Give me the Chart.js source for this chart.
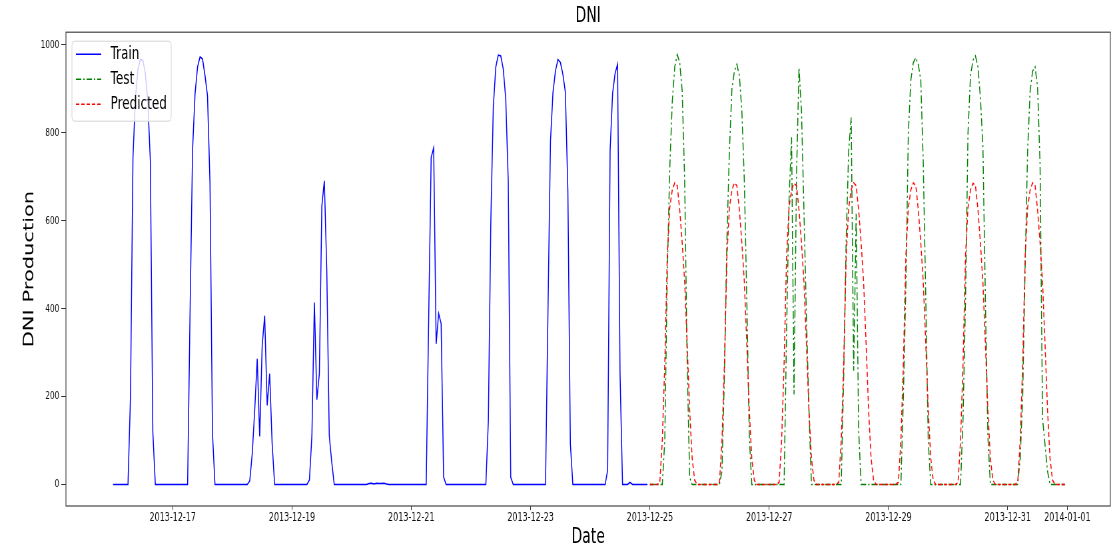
<!DOCTYPE html>
<html>
<head>
<meta charset="utf-8">
<title>DNI</title>
<script src="https://cdn.jsdelivr.net/npm/chart.js@4.4.1/dist/chart.umd.min.js"></script>
<style>
  html, body { margin: 0; padding: 0; background: #fff; overflow: hidden; }
</style>
</head>
<body>
<!-- drawn wide then squeezed to 1119px, like the original figure -->
<canvas id="dni" width="1680" height="550" style="display:block;width:1119px;height:550px"></canvas>
<script>
// hourly DNI values, one row per day (hours 0..23)
const trainFirstDay = 0; // 2013-12-16
const testFirstDay = 9;  // 2013-12-25

const train = [
  [0,0,0,0,0,0,0,200,744,880,945,967,965,935,870,736,120,0,0,0,0,0,0,0],   // 12-16
  [0,0,0,0,0,0,0,400,763,890,950,973,968,930,884,684,116,0,0,0,0,0,0,0],   // 12-17
  [0,0,0,0,0,0,0,8,70,170,286,109,316,384,180,252,93,0,0,0,0,0,0,0],       // 12-18
  [0,0,0,0,0,0,0,10,111,414,193,252,634,691,486,111,50,0,0,0,0,0,0,0],     // 12-19
  [0,0,0,0,0,0,0,2,3,1,3,2,2,3,1,0,0,0,0,0,0,0,0,0],                       // 12-20
  [0,0,0,0,0,0,0,380,744,766,320,389,366,17,0,0,0,0,0,0,0,0,0,0],          // 12-21
  [0,0,0,0,0,0,0,145,600,860,950,977,975,945,877,690,16,0,0,0,0,0,0,0],    // 12-22
  [0,0,0,0,0,0,0,400,782,892,941,967,960,933,892,668,93,0,0,0,0,0,0,0],    // 12-23
  [0,0,0,0,0,0,0,32,760,890,935,956,250,0,0,0,5,0,0,0,0,0,0,0]             // 12-24
];

const test = [
  [0,0,0,0,0,0,100,480,720,870,950,978,960,895,690,275,16,0,0,0,0,0,0,0],  // 12-25
  [0,0,0,0,0,30,250,560,760,900,940,956,930,850,690,420,110,0,0,0,0,0,0,0],// 12-26
  [0,0,0,0,0,0,0,350,650,790,205,700,948,850,620,380,170,0,0,0,0,0,0,0],   // 12-27
  [0,0,0,0,0,0,250,560,760,835,259,616,123,0,0,0,0,0,0,0,0,0,0,0],         // 12-28
  [0,0,0,0,0,0,200,450,800,920,960,971,955,920,730,426,100,0,0,0,0,0,0,0], // 12-29
  [0,0,0,0,0,0,150,420,800,930,965,975,950,880,770,420,110,0,0,0,0,0,0,0], // 12-30
  [0,0,0,0,0,60,200,500,760,895,940,950,903,729,150,90,30,0,0,0,0,0,0,0]   // 12-31
];

const predicted = [
  [0,0,0,0,5,100,275,520,630,670,686,680,625,550,460,320,170,60,10,0,0,0,0,0],
  [0,0,0,0,5,100,275,520,630,670,686,680,625,550,460,320,170,60,10,0,0,0,0,0],
  [0,0,0,0,5,100,275,520,630,670,685,680,625,550,460,320,170,60,10,0,0,0,0,0],
  [0,0,0,0,5,100,275,520,630,670,686,680,625,550,460,320,170,60,10,0,0,0,0,0],
  [0,0,0,0,5,100,275,520,630,670,686,680,625,550,460,320,170,60,10,0,0,0,0,0],
  [0,0,0,0,5,100,275,520,630,670,685,680,625,550,460,320,170,60,10,0,0,0,0,0],
  [0,0,0,0,5,100,275,520,630,670,686,680,625,550,460,320,170,60,10,0,0,0,0,0]
];

// x ticks, in days after 2013-12-16
const tickDays = [1, 3, 5, 7, 9, 11, 13, 15, 16];
const tickLabels = ["2013-12-17", "2013-12-19", "2013-12-21", "2013-12-23",
  "2013-12-25", "2013-12-27", "2013-12-29", "2013-12-31", "2014-01-01"];
const yTicks = [0, 200, 400, 600, 800, 1000];

function toPoints(rows, firstDay) {
  return rows.flat().map((v, i) => ({ x: firstDay + i / 24, y: v }));
}

Chart.defaults.font.family = "'DejaVu Sans', sans-serif";
Chart.defaults.color = "#000";

// box around the plot + legend in the upper left corner
const frameAndLegend = {
  id: "frameAndLegend",
  afterDraw(chart) {
    const ctx = chart.ctx;
    const a = chart.chartArea;
    ctx.save();
    ctx.strokeStyle = "#444";
    ctx.lineWidth = 1.2;
    ctx.strokeRect(a.left, a.top, a.right - a.left, a.bottom - a.top);

    const x = a.left + 9, y = a.top + 9, w = 149, h = 80;
    ctx.beginPath();
    ctx.roundRect(x, y, w, h, 4);
    ctx.fillStyle = "rgba(255,255,255,0.8)";
    ctx.fill();
    ctx.strokeStyle = "#d4d4d4";
    ctx.lineWidth = 1;
    ctx.stroke();

    chart.data.datasets.forEach((ds, i) => {
      const ly = y + 13 + i * 25;
      ctx.beginPath();
      ctx.setLineDash(ds.borderDash || []);
      ctx.strokeStyle = ds.borderColor;
      ctx.lineWidth = ds.borderWidth;
      ctx.moveTo(x + 6, ly);
      ctx.lineTo(x + 44, ly);
      ctx.stroke();
      ctx.setLineDash([]);
      ctx.fillStyle = "#000";
      ctx.font = "18px 'DejaVu Sans'";
      ctx.textBaseline = "middle";
      ctx.fillText(ds.label, x + 58, ly);
    });
    ctx.restore();
  }
};

new Chart(document.getElementById("dni"), {
  type: "line",
  data: {
    datasets: [
      {
        label: "Train",
        data: toPoints(train, trainFirstDay),
        borderColor: "#0000ff",
        borderWidth: 1.5,
        order: 3,
      },
      {
        label: "Test",
        data: toPoints(test, testFirstDay),
        borderColor: "#008000",
        borderWidth: 1.5,
        borderDash: [8, 3, 2, 3],
        order: 2,
      },
      {
        label: "Predicted",
        data: toPoints(predicted, testFirstDay),
        borderColor: "#ff0000",
        borderWidth: 1.5,
        borderDash: [5, 3],
        order: 1,
      },
    ],
  },
  options: {
    responsive: false,
    animation: false,
    devicePixelRatio: 1,
    events: [],
    layout: { padding: { left: 0, right: 13, top: 0, bottom: 0 } },
    elements: { point: { radius: 0 }, line: { tension: 0, fill: false } },
    plugins: {
      legend: { display: false },
      tooltip: { enabled: false },
      title: {
        display: true,
        text: "DNI",
        fullSize: false,
        font: { size: 21, weight: "normal" },
        color: "#000",
        padding: { top: 4, bottom: 3 },
      },
    },
    scales: {
      x: {
        type: "linear",
        min: -0.79,
        max: 16.72,
        afterBuildTicks: (s) => { s.ticks = tickDays.map((v) => ({ value: v })); },
        afterFit: (s) => { s.height = 44; },
        ticks: {
          callback: (v, i) => tickLabels[i],
          font: { size: 12 },
          color: "#111",
          padding: 1,
          maxRotation: 0,
          autoSkip: false,
        },
        grid: { drawOnChartArea: false, drawTicks: true, tickLength: 4, color: "#333" },
        border: { display: false },
        title: { display: true, text: "Date", font: { size: 21 }, color: "#000", padding: { top: 0, bottom: 0 } },
      },
      y: {
        min: -49,
        max: 1029,
        afterBuildTicks: (s) => { s.ticks = yTicks.map((v) => ({ value: v })); },
        afterFit: (s) => { s.width = 99; },
        ticks: { callback: (v) => String(v), font: { size: 11 }, color: "#111", padding: 3 },
        grid: { drawOnChartArea: false, drawTicks: true, tickLength: 7, color: "#333" },
        border: { display: false },
        title: { display: true, text: "DNI Production", font: { size: 21 }, color: "#000", padding: { top: 32, bottom: 0 } },
      },
    },
  },
  plugins: [frameAndLegend],
});
</script>
</body>
</html>
